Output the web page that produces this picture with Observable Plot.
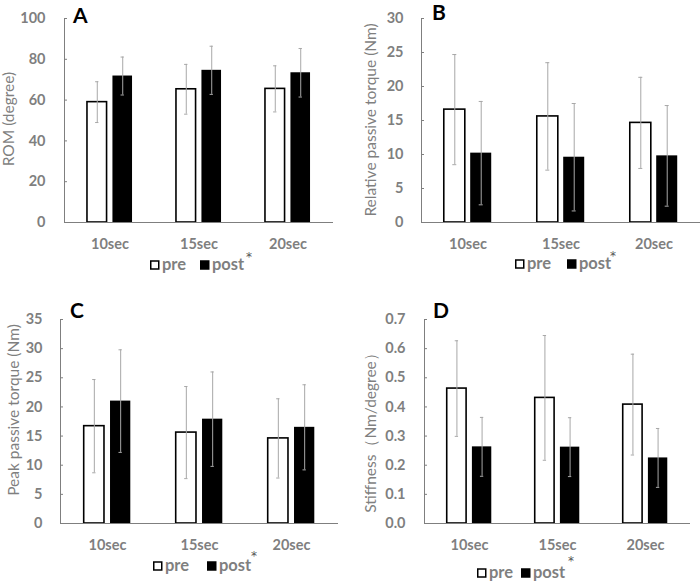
<!DOCTYPE html>
<html><head><meta charset="utf-8">
<script src="https://cdn.jsdelivr.net/npm/d3@7"></script>
<script src="https://cdn.jsdelivr.net/npm/@observablehq/plot@0.6"></script>
<style>
html,body{margin:0;padding:0;background:#fff;}
#fig{position:relative;width:700px;height:581px;overflow:hidden;font-family:Lato,sans-serif;}
#fig > svg{position:absolute;}
</style></head><body><div id="fig"></div>
<script>
// ---- data ----
const categories = ["10sec", "15sec", "20sec"];
const series = ["pre", "post"];

const romPre = [59.0, 65.3, 65.5];
const romPreSD = [10.0, 12.2, 11.3];
const romPost = [71.8, 74.6, 73.4];
const romPostSD = [9.3, 11.8, 11.9];

const relPre = [16.6, 15.6, 14.65];
const relPreSD = [8.1, 7.9, 6.7];
const relPost = [10.2, 9.6, 9.8];
const relPostSD = [7.6, 7.9, 7.4];

const peakPre = [16.7, 15.6, 14.6];
const peakPreSD = [8.0, 7.9, 6.8];
const peakPost = [21.0, 17.9, 16.5];
const peakPostSD = [8.8, 8.1, 7.3];

const stiffPre = [0.463, 0.431, 0.408];
const stiffPreSD = [0.164, 0.214, 0.173];
const stiffPost = [0.263, 0.262, 0.225];
const stiffPostSD = [0.101, 0.101, 0.101];

const ticksA = [0, 20, 40, 60, 80, 100];
const ticksB = [0, 5, 10, 15, 20, 25, 30];
const ticksC = [0, 5, 10, 15, 20, 25, 30, 35];
const ticksD = [0, 0.1, 0.2, 0.3, 0.4, 0.5, 0.6, 0.7];

const titleA = "ROM (degree)";
const titleB = "Relative passive torque (Nm)";
const titleC = "Peak passive torque (Nm)";
const titleD = "Stiffness（Nm/degree）";

// ---- styles ----
const GRAY = "#7f7f7f", ERR = "#a8a8a8";

function panel(p) {
  const rows = [];
  categories.forEach((c, i) => {
    rows.push({cat: c, s: series[0], v: p.pre[i], sd: p.preSD[i]});
    rows.push({cat: c, s: series[1], v: p.post[i], sd: p.postSD[i]});
  });
  const pre = rows.filter(d => d.s === "pre"), post = rows.filter(d => d.s === "post");
  const bw = (350 - p.ml - p.mr) / categories.length;
  const half = bw / 2, barW = 0.226 * bw, gap = 0.058 * bw, off = gap / 2 + barW / 2, cap = 2;
  const errMarks = (data, sign) => [
    Plot.ruleX(data, {x: "cat", y1: d => d.v - d.sd, y2: d => d.v + d.sd, dx: sign * off, stroke: ERR, strokeWidth: 1}),
    Plot.tickY(data, {x: "cat", y: d => d.v + d.sd, stroke: ERR, insetLeft: half + sign * off - cap, insetRight: half - sign * off - cap}),
    Plot.tickY(data, {x: "cat", y: d => d.v - d.sd, stroke: ERR, insetLeft: half + sign * off - cap, insetRight: half - sign * off - cap})
  ];
  const svg = Plot.plot({
    width: 350, height: p.h,
    marginLeft: p.ml, marginRight: p.mr, marginTop: p.mt, marginBottom: p.mb,
    style: {fontFamily: "Lato, sans-serif", fontSize: "14.5px", fontWeight: "bold", color: GRAY, background: "transparent", overflow: "visible"},
    x: {domain: categories, padding: 0, axis: null},
    y: {domain: p.domain, axis: null},
    marks: [
      Plot.barY(pre, {x: "cat", y: "v", fill: "white", stroke: "black", strokeWidth: 1.6, insetLeft: half - gap / 2 - barW, insetRight: half + gap / 2}),
      Plot.barY(post, {x: "cat", y: "v", fill: "black", insetLeft: half + gap / 2, insetRight: half - gap / 2 - barW}),
      ...errMarks(pre, -1),
      ...errMarks(post, 1),
      Plot.ruleY([p.domain[0]], {stroke: GRAY, strokeWidth: 1}),
      Plot.frame({anchor: "left", stroke: GRAY}),
      Plot.axisY({ticks: p.ticks, tickFormat: p.fmt, tickSize: 0, tickPadding: p.tp, label: null}),
      Plot.axisY({ticks: p.ticks, tickFormat: () => "", tickSize: 3, dx: 3, label: null}),
      Plot.axisX({tickSize: 0, tickPadding: 16, label: null})
    ]
  });
  svg.style.left = p.left + "px";
  svg.style.top = p.top + "px";
  return svg;
}

const fig = document.getElementById("fig");
const panels = [
  {key: "A", left: 0, top: 0, h: 290, ml: 64, mr: 17, mt: 18, mb: 68, domain: [0, 100], ticks: ticksA, fmt: d => d, tp: 19, pre: romPre, preSD: romPreSD, post: romPost, postSD: romPostSD,
   title: titleA, tx: 9, ty: 119, lx: 73, ly: 23, leg: {x0: 150, x1: 200, y: 270, ax: 249, ay: 253}},
  {key: "B", left: 350, top: 0, h: 290, ml: 71, mr: 0, mt: 18, mb: 68, domain: [0, 30], ticks: ticksB, fmt: d => d, tp: 18, pre: relPre, preSD: relPreSD, post: relPost, postSD: relPostSD,
   title: titleB, tx: 371, ty: 120, lx: 432, ly: 20, leg: {x0: 515, x1: 567, y: 269, ax: 613, ay: 252}},
  {key: "C", left: 0, top: 290, h: 291, ml: 60, mr: 12, mt: 29, mb: 58, domain: [0, 35], ticks: ticksC, fmt: d => d, tp: 18, pre: peakPre, preSD: peakPreSD, post: peakPost, postSD: peakPostSD,
   title: titleC, tx: 14, ty: 410, lx: 70, ly: 318, leg: {x0: 153, x1: 207, y: 571, ax: 254, ay: 552}},
  {key: "D", left: 350, top: 290, h: 291, ml: 74, mr: 10, mt: 29, mb: 58, domain: [0, 0.7], ticks: ticksD, fmt: d3.format(".1f"), tp: 19, pre: stiffPre, preSD: stiffPreSD, post: stiffPost, postSD: stiffPostSD,
   title: titleD, tx: 371, ty: 429, lx: 433, ly: 318, leg: {x0: 477, x1: 521, y: 578, ax: 571, ay: 557}}
];
panels.forEach(p => fig.appendChild(panel(p)));

// ---- overlay: panel letters, axis titles, legends ----
const ov = d3.select(fig).append("svg")
  .attr("width", 700).attr("height", 581)
  .style("left", "0px").style("top", "0px")
  .style("font-family", "Lato, sans-serif");

panels.forEach(p => {
  ov.append("text").attr("x", p.lx).attr("y", p.ly)
    .attr("font-size", 21).attr("font-weight", "bold").attr("fill", "black").text(p.key);
  ov.append("text").attr("transform", `translate(${p.tx},${p.ty}) rotate(-90)`)
    .attr("text-anchor", "middle").attr("dy", "0.35em")
    .attr("font-size", 15.5).attr("fill", GRAY).text(p.title);
  const L = p.leg;
  const g = ov.append("g").attr("font-size", 16.5).attr("font-weight", "bold").attr("fill", GRAY);
  series.forEach((s, i) => {
    const x = i === 0 ? L.x0 : L.x1;
    g.append("rect").attr("x", x + 0.75).attr("y", L.y - 9).attr("width", 8).attr("height", 8)
      .attr("fill", s === "pre" ? "white" : "black").attr("stroke", "black").attr("stroke-width", 1.5);
    g.append("text").attr("x", x + 12).attr("y", L.y).text(s);
  });
  g.append("text").attr("x", L.ax).attr("y", L.ay + 7.5).attr("text-anchor", "middle")
    .attr("font-family", "DejaVu Sans").attr("font-weight", "normal")
    .attr("font-size", 12).attr("fill", "#555").text("*");
});
</script>
</body></html>
